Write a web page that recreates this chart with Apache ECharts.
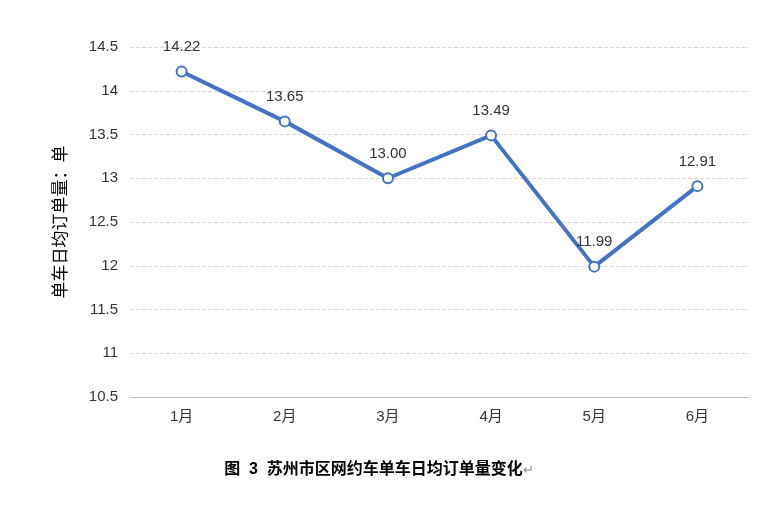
<!DOCTYPE html>
<html><head><meta charset="utf-8">
<script src="https://cdn.jsdelivr.net/npm/echarts@6/dist/echarts.min.js"></script>
<style>html,body{margin:0;padding:0;background:#fff}#c{width:758px;height:508px}</style>
</head><body><div id="c"></div>
<script>
const categories = ['1月','2月','3月','4月','5月','6月'];
const values = [14.22, 13.65, 13.00, 13.49, 11.99, 12.91];
const yTicks = [10.5, 11, 11.5, 12, 12.5, 13, 13.5, 14, 14.5];
const chart = echarts.init(document.getElementById('c'));
const font = '"Liberation Sans","Noto Sans CJK SC",sans-serif';
chart.setOption({
  animation: false,
  textStyle: { fontFamily: font },
  title: {
    text: '图  3  苏州市区网约车单车日均订单量变化{a|↵}',
    left: 'center', top: 457,
    textStyle: { fontSize: 16, fontWeight: 'bold', color: '#000', fontFamily: font,
      rich: { a: { fontSize: 13, color: '#888', fontWeight: 'normal' } } }
  },
  grid: { left: 130, right: 9, top: 47, bottom: 111 },
  xAxis: {
    type: 'category', data: categories,
    axisLine: { lineStyle: { color: '#bfbfbf' } },
    axisTick: { show: false },
    axisLabel: { color: '#333', fontSize: 15, margin: 12 }
  },
  yAxis: {
    type: 'value', min: yTicks[0], max: yTicks[yTicks.length - 1], interval: 0.5,
    name: '单车日均订单量：单', nameLocation: 'middle', nameGap: 60, nameRotate: 90,
    nameTextStyle: { fontSize: 17, color: '#000' },
    axisLine: { show: false }, axisTick: { show: false },
    axisLabel: { color: '#333', fontSize: 15, margin: 12 },
    splitLine: { lineStyle: { color: '#d9d9d9', type: 'dashed' } }
  },
  series: [{
    type: 'line', data: values,
    lineStyle: { color: '#4472C4', width: 4 },
    itemStyle: { color: '#fff', borderColor: '#4472C4', borderWidth: 2 },
    symbol: 'circle', symbolSize: 10,
    label: { show: true, position: 'top', distance: 11, fontSize: 15, color: '#333',
      formatter: p => p.value.toFixed(2) }
  }]
});
</script></body></html>
